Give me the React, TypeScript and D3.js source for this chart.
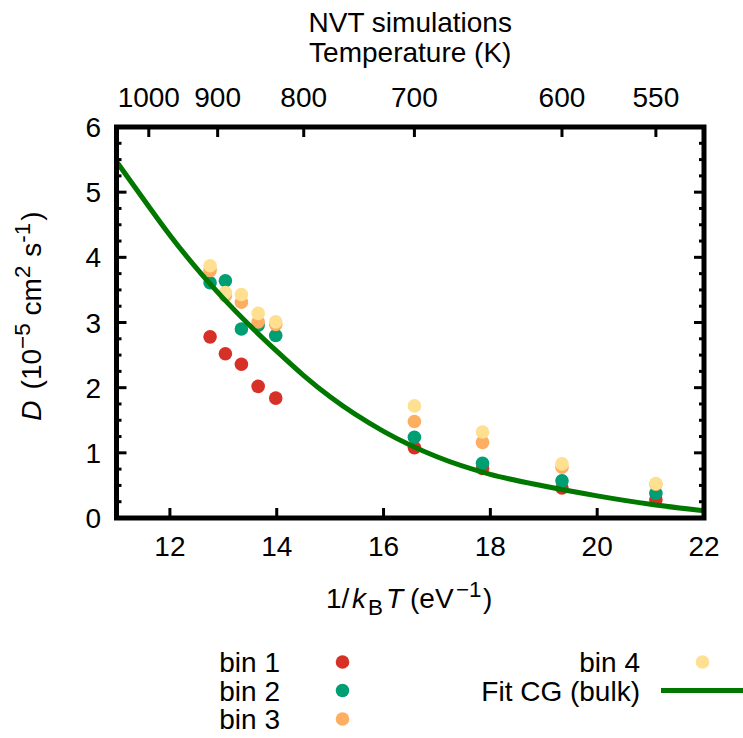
import React from 'react';
import * as d3 from 'd3';

// Boltzmann constant (eV/K) for the temperature <-> 1/kBT conversion
const kB = 8.617333e-5;

// Simulation temperatures (K) for each data cluster
const temperatures = [910, 890, 870, 850, 830, 700, 650, 600, 550];

// Diffusion coefficients D (1e-5 cm^2/s)
const bin1 = [2.78, 2.52, 2.36, 2.02, 1.84, 1.08, 0.76, 0.46, 0.28];
const bin2 = [3.61, 3.64, 2.9, 2.96, 2.8, 1.24, 0.84, 0.57, 0.38];
const bin3 = [3.8, 3.41, 3.31, 3.01, 2.97, 1.48, 1.16, 0.78, 0.52];
const bin4 = [3.87, 3.46, 3.43, 3.14, 3.01, 1.72, 1.32, 0.83, 0.53];

// Fit CG (bulk) curve
const fitInvT = [11, 11.5, 12, 12.5, 13, 13.5, 14, 14.5, 15, 16, 17, 18, 19, 20, 21, 22];
const fitD = [5.47, 4.9, 4.34, 3.83, 3.37, 2.95, 2.56, 2.19, 1.86, 1.33, 0.94, 0.67, 0.49, 0.34, 0.21, 0.11];

// Axis ticks
const xTicks = [12, 14, 16, 18, 20, 22];
const yTicks = [0, 1, 2, 3, 4, 5, 6];
const yMinorStep = 0.25;
const tempTicks = [1000, 900, 800, 700, 600, 550];

const seriesNames = ['bin 1', 'bin 2', 'bin 3', 'bin 4'];
const seriesColors = ['#d73027', '#009e73', '#fdae61', '#fee090'];
const seriesValues = [bin1, bin2, bin3, bin4];
const fitName = 'Fit CG (bulk)';
const fitColor = '#007800';

const W = 743;
const H = 738;
const L = 116.5, R = 704, T = 127, B = 518;
const FONT = '"Liberation Sans", Arial, Helvetica, sans-serif';
const FS = 28;
const SUP = 22.4;
const PR = 6.8;

export default function App() {
  const x = d3.scaleLinear().domain([11, 22]).range([L, R]);
  const y = d3.scaleLinear().domain([0, 6]).range([B, T]);
  const invT = (t: number) => 1 / (kB * t);

  const minor = d3.range(0, 6 + 1e-9, yMinorStep).filter((v) => Math.abs(v - Math.round(v)) > 1e-6);

  const line = d3
    .line<number>()
    .x((_, i) => x(fitInvT[i]))
    .y((d) => y(d))
    .curve(d3.curveMonotoneX);

  const legendRows = [662, 690.5, 719];
  const legendLeft = [
    { name: seriesNames[0], color: seriesColors[0], row: 0 },
    { name: seriesNames[1], color: seriesColors[1], row: 1 },
    { name: seriesNames[2], color: seriesColors[2], row: 2 },
  ];

  return (
    <svg
      width={W}
      height={H}
      viewBox={`0 0 ${W} ${H}`}
      style={{ position: 'absolute', left: 0, top: 0, background: '#fff' }}
      fontFamily={FONT}
    >
      <rect x={0} y={0} width={W} height={H} fill="#fff" />
      <defs>
        <clipPath id="plotclip">
          <rect x={L} y={T} width={R - L} height={B - T} />
        </clipPath>
      </defs>

      {/* y ticks major + mirror */}
      {yTicks.map((v) => (
        <g key={'yt' + v}>
          <line x1={L} x2={L + 10} y1={y(v)} y2={y(v)} stroke="#000" strokeWidth={3} />
          <line x1={R} x2={R - 10} y1={y(v)} y2={y(v)} stroke="#000" strokeWidth={3} />
          <text x={101} y={y(v) + 10} fontSize={FS} textAnchor="end" fill="#000">
            {v}
          </text>
        </g>
      ))}
      {minor.map((v) => (
        <g key={'ym' + v}>
          <line x1={L} x2={L + 5} y1={y(v)} y2={y(v)} stroke="#000" strokeWidth={3} />
          <line x1={R} x2={R - 5} y1={y(v)} y2={y(v)} stroke="#000" strokeWidth={3} />
        </g>
      ))}

      {/* x ticks bottom */}
      {xTicks.map((v) => (
        <g key={'xt' + v}>
          <line x1={x(v)} x2={x(v)} y1={B} y2={B - 10} stroke="#000" strokeWidth={3} />
          <text x={x(v)} y={556} fontSize={FS} textAnchor="middle" fill="#000">
            {v}
          </text>
        </g>
      ))}

      {/* top temperature ticks */}
      {tempTicks.map((t) => (
        <g key={'tt' + t}>
          <line x1={x(invT(t))} x2={x(invT(t))} y1={T} y2={T + 10} stroke="#000" strokeWidth={3} />
          <text x={x(invT(t))} y={107} fontSize={FS} textAnchor="middle" fill="#000">
            {t}
          </text>
        </g>
      ))}

      {/* data points */}
      <g clipPath="url(#plotclip)">
        {seriesValues.map((vals, si) =>
          vals.map((v, i) => (
            <circle
              key={'p' + si + '-' + i}
              cx={x(invT(temperatures[i]))}
              cy={y(v)}
              r={PR}
              fill={seriesColors[si]}
            />
          ))
        )}
        <path d={line(fitD) || ''} fill="none" stroke={fitColor} strokeWidth={5} />
      </g>

      {/* border */}
      <rect x={L} y={T} width={R - L} height={B - T} fill="none" stroke="#000" strokeWidth={5} />

      {/* x axis label */}
      <g fontSize={FS} fill="#000">
        <text x={326} y={608}>1/</text>
        <text x={352} y={608} fontStyle="italic">k</text>
        <text x={368} y={615} fontSize={SUP}>B</text>
        <text x={386} y={608} fontStyle="italic">T</text>
        <text x={410} y={608}>(eV</text>
        <text x={456} y={597} fontSize={SUP}>−1</text>
        <text x={483} y={608}>)</text>
      </g>

      {/* y axis label (rotated) */}
      <text transform="translate(41, 316) rotate(-90)" fontSize={FS} fill="#000" textAnchor="middle">
        <tspan fontStyle="italic">D</tspan>
        <tspan dx={11}>(10</tspan>
        <tspan fontSize={SUP} dy={-11}>−5</tspan>
        <tspan dy={11} dx={8}>cm</tspan>
        <tspan fontSize={SUP} dy={-11}>2</tspan>
        <tspan dy={11} dx={9}>s</tspan>
        <tspan fontSize={SUP} dy={-11}>-1</tspan>
        <tspan dy={11} dx={2}>)</tspan>
      </text>

      {/* top label */}
      <text x={(L + R) / 2} y={32} fontSize={FS} textAnchor="middle" fill="#000">
        NVT simulations
      </text>
      <text x={(L + R) / 2} y={62} fontSize={FS} textAnchor="middle" fill="#000">
        Temperature (K)
      </text>

      {/* legend */}
      {legendLeft.map((e) => (
        <g key={'lg' + e.name}>
          <text x={280} y={legendRows[e.row] + 10} fontSize={FS} textAnchor="end" fill="#000">
            {e.name}
          </text>
          <circle cx={342.5} cy={legendRows[e.row]} r={PR} fill={e.color} />
        </g>
      ))}
      <text x={640} y={legendRows[0] + 10} fontSize={FS} textAnchor="end" fill="#000">
        {seriesNames[3]}
      </text>
      <circle cx={702.5} cy={legendRows[0]} r={PR} fill={seriesColors[3]} />
      <text x={640} y={legendRows[1] + 10} fontSize={FS} textAnchor="end" fill="#000">
        {fitName}
      </text>
      <line x1={661} x2={745} y1={legendRows[1]} y2={legendRows[1]} stroke={fitColor} strokeWidth={5} />
    </svg>
  );
}
